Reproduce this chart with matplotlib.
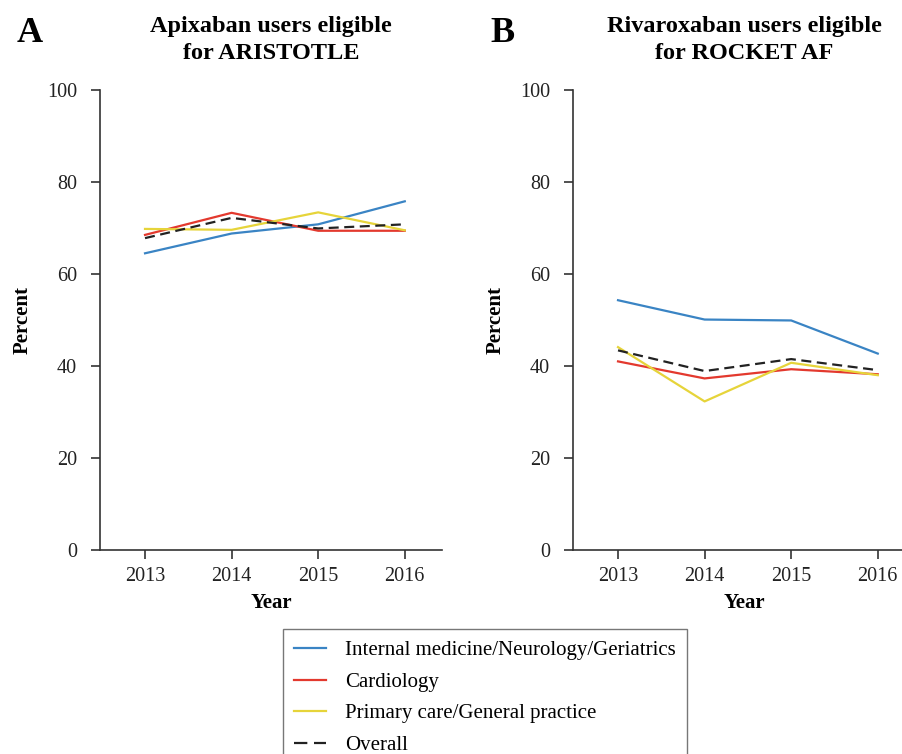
import matplotlib
matplotlib.use("Agg")
import matplotlib.pyplot as plt
from matplotlib.lines import Line2D

plt.rcParams['font.family'] = ['Liberation Serif', 'DejaVu Serif']

# data
years = [2013, 2014, 2015, 2016]
series_names = ["Internal medicine/Neurology/Geriatrics", "Cardiology",
                "Primary care/General practice", "Overall"]

apix_internal = [64.5, 68.8, 70.8, 75.8]
apix_cardio = [68.5, 73.3, 69.4, 69.4]
apix_primary = [69.8, 69.6, 73.4, 69.5]
apix_overall = [67.8, 72.2, 69.9, 70.8]

riva_internal = [54.3, 50.1, 49.9, 42.7]
riva_cardio = [41.0, 37.3, 39.3, 38.2]
riva_primary = [44.1, 32.3, 40.7, 38.0]
riva_overall = [43.4, 38.9, 41.5, 39.1]

yticks = [0, 20, 40, 60, 80, 100]

colors = ["#3a84c4", "#e3392e", "#e6d43a", "#222222"]
styles = ["-", "-", "-", (0, (4.5, 2.5))]

W, H = 903, 754
fig = plt.figure(figsize=(W / 100, H / 100), dpi=100)

panels = [
    ("A", "Apixaban users eligible\nfor ARISTOTLE",
     [apix_internal, apix_cardio, apix_primary, apix_overall], 100),
    ("B", "Rivaroxaban users eligible\nfor ROCKET AF",
     [riva_internal, riva_cardio, riva_primary, riva_overall], 573),
]

for letter, title, data, left_px in panels:
    ax = fig.add_axes([left_px / W, 1 - 550 / H, 342 / W, 460 / H])
    for vals, c, ls, name in zip(data, colors, styles, series_names):
        ax.plot(years, vals, color=c, linestyle=ls, linewidth=1.6, label=name)
    ax.set_xlim(2012.48, 2016.43)
    ax.set_ylim(0, 100)
    ax.set_xticks(years)
    ax.set_yticks(yticks)
    ax.spines['top'].set_visible(False)
    ax.spines['right'].set_visible(False)
    for s in ("left", "bottom"):
        ax.spines[s].set_linewidth(1.2)
        ax.spines[s].set_color("#333333")
    ax.tick_params(axis="both", direction="out", length=6.5, width=1.2,
                   color="#333333", labelsize=14.5, labelcolor="#222222")
    ax.tick_params(axis="y", pad=10)
    ax.tick_params(axis="x", pad=6)
    ax.set_ylabel("Percent", fontsize=15, fontweight="bold", labelpad=10)
    ax.set_xlabel("Year", fontsize=15, fontweight="bold", labelpad=5)
    ax.set_title(title, fontsize=17.5, fontweight="bold", pad=22, linespacing=1.42)
    fig.text((left_px - 83) / W, 1 - 34 / H, letter, fontsize=26,
             fontweight="bold", va="center", ha="left")

# proxy handles so the dashed entry shows two dashes like the original
handles = [Line2D([], [], color=c, linewidth=1.6,
                  linestyle=(ls if ls == "-" else (0, (6, 3))))
           for c, ls in zip(colors, styles)]
fig.legend(handles, series_names, loc="upper center", bbox_to_anchor=(485 / W, 1 - 619 / H),
           fontsize=15, frameon=True, fancybox=False, edgecolor="#555555",
           handlelength=1.55, handletextpad=0.9, labelspacing=0.57, borderpad=0.55)

fig.savefig("out.png", dpi=100)
